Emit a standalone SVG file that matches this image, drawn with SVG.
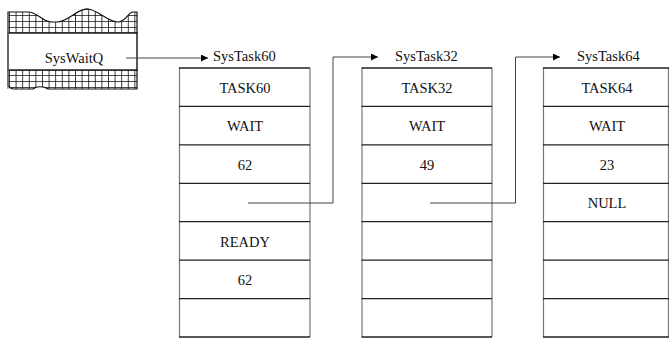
<svg xmlns="http://www.w3.org/2000/svg" width="669" height="338" viewBox="0 0 669 338">
<style>
text{font-family:"Liberation Serif","Times New Roman",serif;font-size:14.5px;fill:#111}
.c{text-anchor:middle}
.row{stroke:#222;stroke-width:1.3}
.side{stroke:#777;stroke-width:1.2}
.conn{fill:none;stroke:#444;stroke-width:1}
</style>
<defs>
<marker id="ah" viewBox="0 0 10 10" refX="10" refY="5" markerWidth="9" markerHeight="7" markerUnits="userSpaceOnUse" orient="auto">
<path d="M0,0 L10,5 L0,10 Z" fill="#000"/>
</marker>
<pattern id="hatch" patternUnits="userSpaceOnUse" x="9" y="3" width="6.6" height="6">
<path d="M0,0 V6 M0,0 H6.6" stroke="#111" stroke-width="1.6" fill="none"/>
</pattern>
</defs>
<g id="SysWaitQ">
<path d="M8,12 L28,12 C38,12 42,22 52,22 L57,22 C68,22 78,8 88,9 C98,10 108,22 118,22 C126,22 128,12 133,12 L137,12 L137,33 L8,33 Z" fill="url(#hatch)" stroke="#111" stroke-width="1.2"/>
<path d="M8,70 L137,70 L137,89 L48,89 C44,86 36,86 33,89 L14,89 C12,89 10,88 8,86 Z" fill="url(#hatch)" stroke="#111" stroke-width="1.2"/>
<rect x="8" y="33" width="129" height="37" fill="#fff" stroke="#111" stroke-width="1.4"/>
<line x1="8" y1="12" x2="8" y2="89" class="side"/>
<text x="74" y="63" class="c">SysWaitQ</text>
</g>
<g id="SysTask60">
<text x="213" y="61">SysTask60</text>
<line x1="179.5" y1="68" x2="179.5" y2="337" class="side"/>
<line x1="310" y1="68" x2="310" y2="337" class="side"/>
<path class="row" d="M179,68H310M179,106.4H310M179,144.9H310M179,183.3H310M179,221.7H310M179,260.1H310M179,298.6H310M179,337H310"/>
<text x="245" y="92.5" class="c">TASK60</text>
<text x="245" y="131" class="c">WAIT</text>
<text x="245" y="169.5" class="c">62</text>
<text x="245" y="246.5" class="c">READY</text>
<text x="245" y="285" class="c">62</text>
</g>
<g id="SysTask32">
<text x="395" y="61">SysTask32</text>
<line x1="362" y1="68" x2="362" y2="337" class="side"/>
<line x1="492" y1="68" x2="492" y2="337" class="side"/>
<path class="row" d="M361.5,68H492M361.5,106.4H492M361.5,144.9H492M361.5,183.3H492M361.5,221.7H492M361.5,260.1H492M361.5,298.6H492M361.5,337H492"/>
<text x="427" y="92.5" class="c">TASK32</text>
<text x="427" y="131" class="c">WAIT</text>
<text x="427" y="169.5" class="c">49</text>
</g>
<g id="SysTask64">
<text x="577" y="61">SysTask64</text>
<line x1="543.5" y1="68" x2="543.5" y2="337" class="side"/>
<line x1="668.5" y1="68" x2="668.5" y2="337" class="side"/>
<path class="row" d="M543,68H669M543,106.4H669M543,144.9H669M543,183.3H669M543,221.7H669M543,260.1H669M543,298.6H669M543,337H669"/>
<text x="607" y="92.5" class="c">TASK64</text>
<text x="607" y="131" class="c">WAIT</text>
<text x="607" y="169.5" class="c">23</text>
<text x="607" y="208" class="c">NULL</text>
</g>
<g id="connectors">
<line x1="126" y1="58" x2="208" y2="58" class="conn" stroke="#000" marker-end="url(#ah)"/>
<polyline points="248,203 333,203 333,57 378,57" class="conn" marker-end="url(#ah)"/>
<polyline points="430,203 515.5,203 515.5,57 560,57" class="conn" marker-end="url(#ah)"/>
</g>
</svg>
